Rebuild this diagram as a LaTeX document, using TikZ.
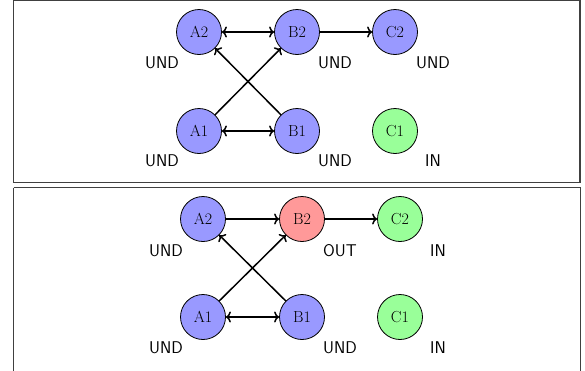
\documentclass[tikz,border=0pt]{standalone}
\usetikzlibrary{arrows.meta}
\definecolor{undblue}{RGB}{153,153,255}
\definecolor{ingreen}{RGB}{153,255,153}
\definecolor{outred}{RGB}{255,153,153}
\tikzset{
  st/.style={circle,draw=black,line width=0.8pt,minimum size=45pt,inner sep=0pt,font=\fontsize{16}{18}\selectfont},
  und/.style={st,fill=undblue},
  inn/.style={st,fill=ingreen},
  outt/.style={st,fill=outred},
  lab/.style={font=\sffamily\fontsize{17}{19}\selectfont,inner sep=0pt},
  tip/.style={},
  edge/.style={line width=1.5pt,-{To[length=5pt,width=11pt]}},
  bedge/.style={line width=1.5pt,{To[length=5pt,width=11pt]}-{To[length=5pt,width=11pt]}},
  panel/.style={draw=black!75,line width=1.3pt}
}
\begin{document}
\begin{tikzpicture}[x=1pt,y=-1pt]
\useasboundingbox (0,0) rectangle (585,370);
% frames
\draw[panel] (13.5,0.8) rectangle (580,182.5);
\draw[panel] (13.5,187.5) -- (580.5,187.5) -- (580.5,375);
\draw[panel] (13.5,187.5) -- (13.5,375);
% top panel
\node[und] (ta2) at (199,32) {A2};
\node[und] (tb2) at (297,32) {B2};
\node[und] (tc2) at (395,32) {C2};
\node[und] (ta1) at (199,131) {A1};
\node[und] (tb1) at (297,131) {B1};
\node[inn] (tc1) at (395,131) {C1};
\node[lab] (lta2) at (162,63) {UND};
\node[lab] (ltb2) at (335,63) {UND};
\node[lab] (ltc2) at (433,63) {UND};
\node[lab] (lta1) at (162,161) {UND};
\node[lab] (ltb1) at (335,161) {UND};
\node[lab] (ltc1) at (433,161) {IN};
\draw[bedge] (ta2) -- (tb2);
\draw[bedge] (ta1) -- (tb1);
\draw[edge] (tb2) -- (tc2);
\draw[edge] (ta1) -- (tb2);
\draw[edge] (tb1) -- (ta2);
% bottom panel
\node[und] (ba2) at (203,219) {A2};
\node[outt] (bb2) at (302,219) {B2};
\node[inn] (bc2) at (400,219) {C2};
\node[und] (ba1) at (203,317) {A1};
\node[und] (bb1) at (302,317) {B1};
\node[inn] (bc1) at (400,317) {C1};
\node[lab] (lba2) at (166,251) {UND};
\node[lab] (lbb2) at (340,251) {OUT};
\node[lab] (lbc2) at (438,251) {IN};
\node[lab] (lba1) at (166,348) {UND};
\node[lab] (lbb1) at (340,348) {UND};
\node[lab] (lbc1) at (438,348) {IN};
\draw[edge] (ba2) -- (bb2);
\draw[bedge] (ba1) -- (bb1);
\draw[edge] (bb2) -- (bc2);
\draw[edge] (ba1) -- (bb2);
\draw[edge] (bb1) -- (ba2);
\end{tikzpicture}
\end{document}
